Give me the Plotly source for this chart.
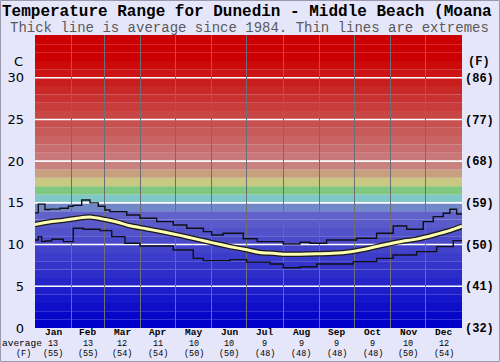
import plotly.graph_objects as go

# ---------------- data ----------------
months = ["Jan", "Feb", "Mar", "Apr", "May", "Jun", "Jul", "Aug", "Sep", "Oct", "Nov", "Dec"]
month_days = [31, 28, 31, 30, 31, 30, 31, 31, 30, 31, 30, 31]
avg_c = [13, 13, 12, 11, 10, 10, 9, 9, 9, 9, 10, 12]
avg_f = [55, 55, 54, 54, 50, 50, 48, 48, 48, 48, 50, 54]

c_ticks = [0, 5, 10, 15, 20, 25, 30]
f_ticks = [32, 41, 50, 59, 68, 77, 86]

# thick line: average (day of year, deg C)
avg_days = [0, 12, 24, 36, 47, 60, 70, 81, 95, 110, 124, 138, 152, 167, 180, 192, 204, 212, 226, 241, 255, 270, 284, 298, 312, 326, 341, 355, 365]
avg_vals = [12.4, 12.7, 12.9, 13.15, 13.3, 13.0, 12.7, 12.25, 11.9, 11.5, 11.1, 10.65, 10.2, 9.75, 9.4, 9.05, 8.95, 8.85, 8.85, 8.9, 8.95, 9.15, 9.5, 9.95, 10.35, 10.65, 11.15, 11.7, 12.2]

# thin lines: extremes (step lines)
max_days = [0, 2.8, 8.5, 12.8, 21.4, 28.5, 32.7, 39.9, 47, 54.1, 59.8, 64.1, 78.4, 89.7, 104, 118.2, 129.7, 143.9, 151, 160.9, 178, 190, 212.2, 226.5, 235, 249.3, 274.9, 292, 306.2, 317.7, 331.9, 340.4, 349, 354.7, 360.4, 365]
max_vals = [13.8, 14.85, 14.2, 14.25, 14.35, 14.6, 14.7, 15.35, 15.0, 14.6, 14.15, 13.95, 13.55, 13.15, 12.75, 12.35, 11.95, 11.55, 11.15, 11.35, 10.7, 10.35, 10.07, 10.27, 10.15, 10.55, 10.75, 11.35, 12.23, 11.83, 12.75, 13.35, 13.75, 14.23, 13.67, 13.67]

min_days = [0, 2.8, 5.7, 8.5, 14.3, 24.2, 32.7, 41.3, 55.6, 65.6, 76.9, 89.7, 118.2, 135.3, 143.9, 166.7, 180.9, 200.9, 212.2, 226.5, 240.8, 272.1, 292, 306.2, 326.2, 343.3, 357.5, 365]
min_vals = [10.55, 10.95, 10.35, 10.43, 10.63, 10.35, 11.95, 11.83, 11.67, 10.95, 10.15, 9.83, 9.35, 8.35, 8.07, 8.2, 7.9, 7.67, 7.23, 7.35, 7.67, 7.95, 8.35, 8.75, 9.15, 9.75, 10.47, 10.47]

band_temps = list(range(0, 36))

# ---------------- helpers ----------------
def band_color(t):
    if t <= 13:
        v = int(t * 7.5)
        return f"rgb({v},{v},202)"
    special = {14: (112, 136, 200), 15: (128, 200, 200), 16: (128, 200, 128),
               17: (200, 200, 128), 18: (200, 160, 128), 19: (200, 130, 125)}
    if t in special:
        r, g, b = special[t]
        return f"rgb({r},{g},{b})"
    g = max(0, 120 - 10 * (t - 20))
    r = 200 if g > 20 else 204
    return f"rgb({r},{g},{g})"

Y_TOP = 35.12
month_edges = [0]
for d in month_days:
    month_edges.append(month_edges[-1] + d)
month_centers = [(month_edges[i] + month_edges[i + 1]) / 2 for i in range(12)]

W, H = 500, 362
ML, MR, MT, MB = 35, 38, 35, 34
PW, PH = W - ML - MR, H - MT - MB

def px_x(px):
    return (px - ML) / PW

def px_y(py):
    return (H - MB - py) / PH

fig = go.Figure()

# avg line: dark outline then pale yellow core
fig.add_trace(go.Scatter(x=avg_days, y=avg_vals, mode="lines",
                         line=dict(color="#1a1a1a", width=5.5, shape="spline", smoothing=0.6),
                         hoverinfo="skip", showlegend=False))
fig.add_trace(go.Scatter(x=avg_days, y=avg_vals, mode="lines",
                         line=dict(color="#FFFFB4", width=3.0, shape="spline", smoothing=0.6),
                         hoverinfo="skip", showlegend=False))
fig.add_trace(go.Scatter(x=max_days, y=max_vals, mode="lines",
                         line=dict(color="#101018", width=1.4, shape="hv"),
                         hoverinfo="skip", showlegend=False))
fig.add_trace(go.Scatter(x=min_days, y=min_vals, mode="lines",
                         line=dict(color="#101018", width=1.4, shape="hv"),
                         hoverinfo="skip", showlegend=False))
# invisible trace for the Fahrenheit axis
fig.add_trace(go.Scatter(x=[0], y=[32], yaxis="y2", mode="markers",
                         marker=dict(opacity=0), hoverinfo="skip", showlegend=False))

shapes = []
for t in band_temps:
    if t >= Y_TOP:
        continue
    shapes.append(dict(type="rect", xref="paper", yref="y", x0=0, x1=1,
                       y0=t, y1=min(t + 1, Y_TOP), fillcolor=band_color(t),
                       line=dict(width=0), layer="below"))
for t in c_ticks[1:]:
    shapes.append(dict(type="line", xref="paper", yref="y", x0=0, x1=1, y0=t, y1=t,
                       line=dict(color="white", width=1.6), layer="between"))
# outer frame
shapes.append(dict(type="rect", xref="paper", yref="paper",
                   x0=px_x(0.5), x1=px_x(W - 0.5), y0=px_y(H - 0.5), y1=px_y(0.5),
                   line=dict(color="#9a9aae", width=1), fillcolor="rgba(0,0,0,0)", layer="above"))

mono = "Liberation Mono, Courier New, monospace"
ann = []
ann.append(dict(text="<b>Temperature Range for Dunedin - Middle Beach (Moana</b>",
                xref="paper", yref="paper", x=px_x(0), y=px_y(12), xanchor="left", yanchor="middle",
                showarrow=False, font=dict(family=mono, size=16, color="black")))
ann.append(dict(text="Thick line is average since 1984. Thin lines are extremes",
                xref="paper", yref="paper", x=px_x(249), y=px_y(28), xanchor="center", yanchor="middle",
                showarrow=False, font=dict(family=mono, size=14, color="#5a5a5a")))
ann.append(dict(text="C", xref="paper", yref="paper", x=px_x(18), y=px_y(61),
                xanchor="center", yanchor="middle", showarrow=False,
                font=dict(family="DejaVu Sans, Verdana, sans-serif", size=13, color="black")))
ann.append(dict(text="<b>(F)</b>", xref="paper", yref="paper", x=px_x(479), y=px_y(62),
                xanchor="center", yanchor="middle", showarrow=False,
                font=dict(family=mono, size=12, color="black")))

ROW_MONTH, ROW_C, ROW_F = 332.9, 343.6, 354.0
ann.append(dict(text="average", xref="paper", yref="paper", x=px_x(22), y=px_y(ROW_C),
                xanchor="center", yanchor="middle", showarrow=False,
                font=dict(family=mono, size=9.5, color="black")))
ann.append(dict(text="(F)", xref="paper", yref="paper", x=px_x(23), y=px_y(ROW_F),
                xanchor="center", yanchor="middle", showarrow=False,
                font=dict(family=mono, size=8.5, color="black")))
for i in range(12):
    ann.append(dict(text=f"<b>{months[i]}</b>", xref="x", yref="paper", x=month_centers[i], y=px_y(ROW_MONTH),
                    xanchor="center", yanchor="middle", showarrow=False,
                    font=dict(family=mono, size=9.5, color="black")))
    ann.append(dict(text=str(avg_c[i]), xref="x", yref="paper", x=month_centers[i], y=px_y(ROW_C),
                    xanchor="center", yanchor="middle", showarrow=False,
                    font=dict(family=mono, size=8.5, color="black")))
    ann.append(dict(text=f"({avg_f[i]})", xref="x", yref="paper", x=month_centers[i], y=px_y(ROW_F),
                    xanchor="center", yanchor="middle", showarrow=False,
                    font=dict(family=mono, size=8.5, color="black")))

fig.update_layout(
    width=W, height=H,
    margin=dict(l=ML, r=MR, t=MT, b=MB, pad=0, autoexpand=False),
    paper_bgcolor="#E6E6FA", plot_bgcolor="#E6E6FA",
    shapes=shapes, annotations=ann, showlegend=False,
    xaxis=dict(range=[0, 365], tickvals=month_edges[1:-1], showticklabels=False,
               showgrid=True, gridcolor="#6e6e78", gridwidth=1, zeroline=False,
               showline=False, ticks="", fixedrange=True, automargin=False),
    yaxis=dict(range=[0, Y_TOP], tickvals=c_ticks, ticktext=[str(v) for v in c_ticks],
               showgrid=False, zeroline=False, showline=False, ticks="",
               ticklabelstandoff=10, automargin=False,
               tickfont=dict(family="DejaVu Sans, Verdana, sans-serif", size=13, color="black")),
    yaxis2=dict(range=[32, 32 + Y_TOP * 1.8], overlaying="y", side="right",
                tickvals=f_ticks, ticktext=[f"({v})" for v in f_ticks],
                showgrid=False, zeroline=False, showline=False, ticks="",
                ticklabelstandoff=2, automargin=False,
                tickfont=dict(family=mono, size=12, color="black", weight="bold")),
)

fig.write_html("out.html", config={"displayModeBar": False},
               post_script="document.body.style.margin='0px';")
